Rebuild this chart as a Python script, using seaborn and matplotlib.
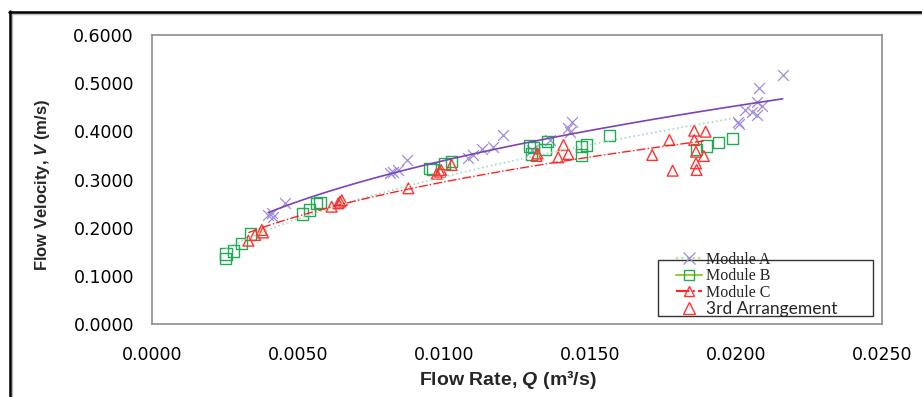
import numpy as np
import pandas as pd
import matplotlib
matplotlib.use("Agg")
import matplotlib.pyplot as plt
from matplotlib.lines import Line2D
from matplotlib.patches import Rectangle
import seaborn as sns

# Module A (purple X)
qa = [0.00398, 0.00410, 0.00415, 0.00455, 0.00815, 0.00826, 0.00843, 0.00872,
      0.01083, 0.01100, 0.01129, 0.01169, 0.01203, 0.01300, 0.01363, 0.01426,
      0.01432, 0.01440, 0.02008, 0.02010, 0.02031, 0.02054, 0.02071, 0.02073,
      0.02080, 0.02088, 0.02160]
va = [0.2263, 0.2298, 0.2220, 0.2518, 0.3128, 0.3160, 0.3197, 0.3405,
      0.3440, 0.3510, 0.3630, 0.3680, 0.3920, 0.3620, 0.3810, 0.4060,
      0.3990, 0.4200, 0.4200, 0.4160, 0.4443, 0.4408, 0.4340, 0.4615,
      0.4890, 0.4526, 0.5170]

# Module B (green squares)
qb = [0.00252, 0.00253, 0.00278, 0.00307, 0.00336, 0.00515, 0.00538, 0.00564,
      0.00575, 0.00952, 0.00960, 0.01003, 0.01026, 0.01292, 0.01306, 0.01300,
      0.01346, 0.01354, 0.01471, 0.01489, 0.01471, 0.01568, 0.01865, 0.01900,
      0.01939, 0.01988]
vb = [0.1364, 0.1453, 0.1516, 0.1675, 0.1869, 0.2284, 0.2367, 0.2506,
      0.2526, 0.3232, 0.3200, 0.3336, 0.3370, 0.3696, 0.3668, 0.3529,
      0.3626, 0.3785, 0.3681, 0.3716, 0.3508, 0.3909, 0.3626, 0.3696,
      0.3764, 0.3855]

# Module C (red triangles)
qc = [0.00330, 0.00353, 0.00376, 0.00380, 0.00615, 0.00638, 0.00644, 0.00650,
      0.00878, 0.00975, 0.00986, 0.00990, 0.01026, 0.01317, 0.01320, 0.01409,
      0.01391, 0.01426, 0.01713, 0.01772, 0.01783, 0.01857, 0.01896, 0.01857,
      0.01863, 0.01890, 0.01863, 0.01865]
vc = [0.1730, 0.1848, 0.1952, 0.1900, 0.2435, 0.2506, 0.2539, 0.2570,
      0.2817, 0.3120, 0.3162, 0.3197, 0.3301, 0.3488, 0.3540, 0.3716,
      0.3460, 0.3529, 0.3508, 0.3820, 0.3183, 0.4013, 0.3992, 0.3820,
      0.3577, 0.3488, 0.3336, 0.3197]

xticks = [0.0, 0.005, 0.010, 0.015, 0.020, 0.025]
yticks = [0.0, 0.1, 0.2, 0.3, 0.4, 0.5, 0.6]

col_a, line_a = "#a08cd8", "#7a44b8"
col_b, line_b = "#22aa55", "#a6dcb4"
col_c, line_c = "#ff3333", "#ff2222"

sns.set_style("white")
plt.rcParams["font.family"] = ["DejaVu Sans"]
plt.rcParams["mathtext.fontset"] = "custom"
plt.rcParams["mathtext.it"] = "Liberation Sans:italic:bold"
plt.rcParams["mathtext.rm"] = "Liberation Sans:bold"

fig = plt.figure(figsize=(9.22, 3.97), dpi=100)
ax = fig.add_axes([0.1649, 0.1839, 0.7917, 0.7279])


def power_fit(q, v):
    # excel-style power trendline, fitted to the points
    q = np.asarray(q)
    b, a = np.polyfit(np.log(q), np.log(v), 1)
    qq = np.linspace(q.min(), q.max(), 60)
    return pd.DataFrame({"q": qq, "v": np.exp(a) * qq ** b})


fa = power_fit(qa, va)
fb = power_fit(qb, vb)
fc = power_fit(qc, vc)

sns.lineplot(data=fa, x="q", y="v", color=line_a, linewidth=1.2, ax=ax)
sns.lineplot(data=fb, x="q", y="v", color=line_b, linewidth=1.2, linestyle=":", ax=ax)
sns.lineplot(data=fc, x="q", y="v", color=line_c, linewidth=1.0, linestyle="-.", ax=ax)

sns.scatterplot(x=qa, y=va, marker="x", color=col_a, s=60, linewidth=0.9, ax=ax)
sns.scatterplot(x=qb, y=vb, marker="s", facecolor="none", edgecolor=col_b, s=65, linewidth=1.0, ax=ax)
sns.scatterplot(x=qc, y=vc, marker="^", facecolor="none", edgecolor=col_c, s=60, linewidth=1.0, ax=ax)

ax.set_xlim(0, 0.025)
ax.set_ylim(0, 0.6)
ax.set_xticks(xticks)
ax.set_yticks(yticks)
ax.set_xticklabels([f"{t:.4f}" for t in xticks])
ax.set_yticklabels([f"{t:.4f}" for t in yticks])
ax.tick_params(axis="both", labelsize=12.5, colors="#8c8c8c", labelcolor="black",
               length=5, width=1, direction="out")
ax.tick_params(axis="x", pad=11)
ax.tick_params(axis="y", pad=8)
for sp in ax.spines.values():
    sp.set_color("#8c8c8c")
    sp.set_linewidth(1.2)

ax.set_xlabel("Flow Rate, $Q$ (m³/s)", fontsize=14, fontweight="bold",
              family="Liberation Sans")
ax.xaxis.set_label_coords(0.488, -0.152)
ax.set_ylabel("Flow Velocity, $V$ (m/s)", fontsize=12, fontweight="bold",
              family="Liberation Sans")
ax.yaxis.set_label_coords(-0.137, 0.481)

handles = [
    Line2D([], [], color="#b5e08a", ls=":", marker="x", mec=col_a, ms=8, mew=0.9),
    Line2D([], [], color="#9acd32", ls="-", marker="s", mfc="none", mec=col_b, ms=7, mew=1),
    Line2D([], [], color=line_c, ls="-.", marker="^", mfc="none", mec=col_c, ms=7, mew=1),
    Line2D([], [], ls="none", marker="^", mfc="none", mec=col_c, ms=8, mew=1),
]
labels = ["Module A", "Module B", "Module C", "3rd Arrangement"]
W, H = 922, 397
leg = fig.legend(handles, labels, loc="upper left",
                 bbox_to_anchor=(668 / W, 1 - 244 / H), bbox_transform=fig.transFigure,
                 frameon=False, borderpad=0, handlelength=1.6, handletextpad=0.3,
                 labelspacing=0.02, prop={"family": "Liberation Serif", "size": 11.5})
leg.get_texts()[3].set_fontfamily("Lato")
leg.get_texts()[3].set_fontsize(12.5)

fig.add_artist(Rectangle((658 / W, 1 - 316 / H), 215 / W, 56 / H, transform=fig.transFigure,
                         fill=False, edgecolor="#333333", linewidth=1))

# outer frame (top and left only)
fig.add_artist(Line2D([9 / W, 1], [1 - 13.5 / H] * 2, transform=fig.transFigure,
                      color="#bbbbbb", lw=1))
fig.add_artist(Line2D([12 / W] * 2, [0, 1 - 11 / H], transform=fig.transFigure,
                      color="#bbbbbb", lw=1))
fig.add_artist(Line2D([9 / W, 1], [1 - 11.5 / H] * 2, transform=fig.transFigure,
                      color="black", lw=1.8))
fig.add_artist(Line2D([10 / W] * 2, [0, 1 - 11 / H], transform=fig.transFigure,
                      color="black", lw=1.8))

fig.savefig("out.png", dpi=100)
